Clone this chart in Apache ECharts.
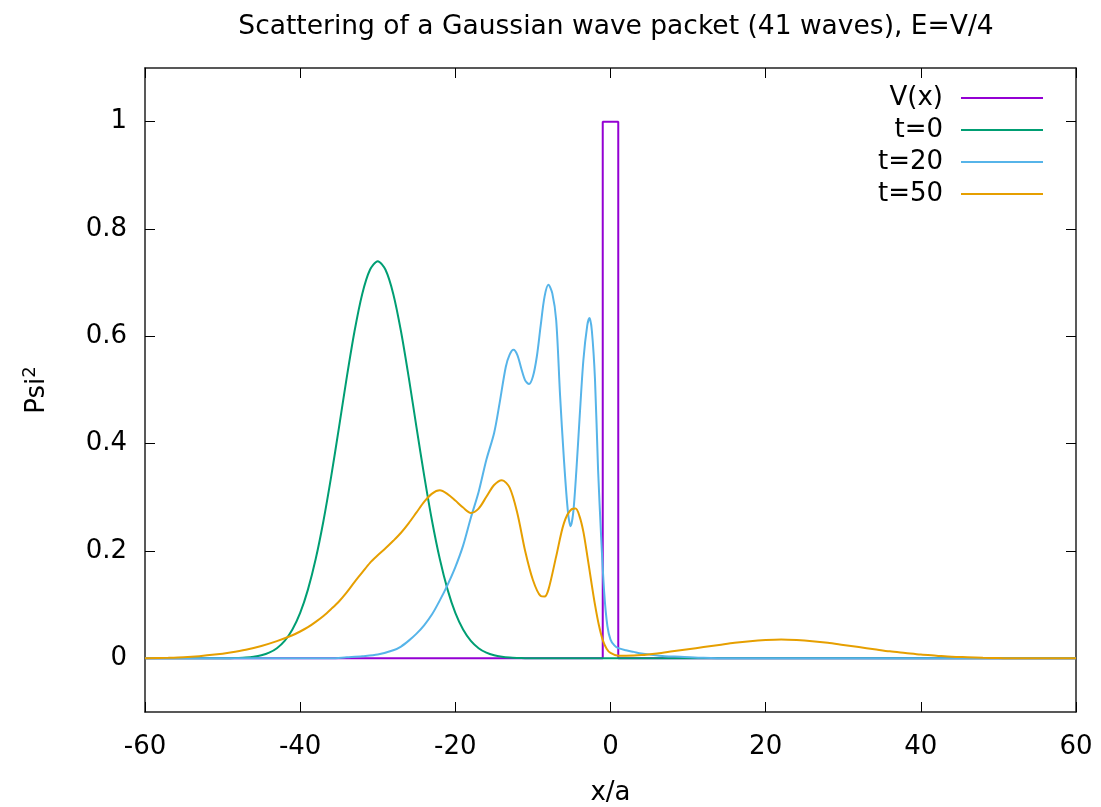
<!DOCTYPE html>
<html>
<head>
<meta charset="utf-8">
<script src="https://cdn.jsdelivr.net/npm/echarts@6/dist/echarts.min.js"></script>
<style>
  html, body { margin: 0; padding: 0; background: #fff; }
  #chart { width: 1101px; height: 807px; }
</style>
</head>
<body>
<div id="chart"></div>
<script>
// tick labels
const xTicks = [-60, -40, -20, 0, 20, 40, 60]
const yTicks = [0, 0.2, 0.4, 0.6, 0.8, 1]

// potential barrier
const potential = [[-60, 0], [-1, 0], [-1, 1], [1, 1], [1, 0], [60, 0]]

// |psi|^2 at t=0
const t0 = [
  [-60, 0], [-52, 0], [-50, 0.0001], [-49, 0.0003], [-48, 0.0007], [-47, 0.0014],
  [-46, 0.0029], [-45, 0.0056], [-44, 0.0105], [-43, 0.0189], [-42, 0.0325],
  [-41, 0.0536], [-40, 0.0845], [-39, 0.128], [-38, 0.185], [-37, 0.256],
  [-36, 0.339], [-35, 0.430], [-34, 0.523], [-33, 0.609], [-32, 0.679],
  [-31, 0.724], [-30, 0.740], [-29, 0.724], [-28, 0.679], [-27, 0.609],
  [-26, 0.523], [-25, 0.430], [-24, 0.339], [-23, 0.256], [-22, 0.185],
  [-21, 0.128], [-20, 0.0845], [-19, 0.0536], [-18, 0.0325], [-17, 0.0189],
  [-16, 0.0105], [-15, 0.0056], [-14, 0.0029], [-13, 0.0014], [-12, 0.0007],
  [-11, 0.0003], [-10, 0.0001], [-8, 0], [60, 0]
]

// |psi|^2 at t=20
const t20 = [
  [-60, 0], [-36, 0], [-34, 0.002], [-32, 0.004], [-30, 0.007], [-28, 0.015],
  [-27, 0.022], [-26, 0.033], [-25, 0.046], [-24, 0.062], [-23, 0.082],
  [-22, 0.108], [-21, 0.137], [-20, 0.170], [-19, 0.210], [-18, 0.262],
  [-17, 0.310], [-16, 0.370], [-15, 0.420], [-14.3, 0.475], [-13.5, 0.543],
  [-13, 0.566], [-12.5, 0.575], [-12, 0.565], [-11.5, 0.540], [-11, 0.518],
  [-10.5, 0.511], [-10, 0.525], [-9.5, 0.562], [-9, 0.620], [-8.5, 0.674],
  [-8, 0.696], [-7.5, 0.680], [-7, 0.630], [-6.5, 0.490], [-6, 0.370],
  [-5.5, 0.275], [-5.15, 0.246], [-4.8, 0.272], [-4.4, 0.350], [-4, 0.444],
  [-3.5, 0.555], [-3, 0.620], [-2.7, 0.634], [-2.4, 0.610], [-2, 0.520],
  [-1.6, 0.351], [-1.2, 0.225], [-0.8, 0.120], [-0.4, 0.060], [0, 0.035],
  [0.5, 0.024], [1, 0.019], [2, 0.015], [3, 0.012], [4, 0.009], [5, 0.007],
  [7, 0.004], [9, 0.003], [12, 0.001], [15, 0], [60, 0]
]

// |psi|^2 at t=50
const t50 = [
  [-60, 0], [-57, 0.001], [-55, 0.002], [-53, 0.004], [-51, 0.007], [-49, 0.011],
  [-47, 0.016], [-45, 0.023], [-43, 0.032], [-41, 0.043], [-40, 0.050],
  [-39, 0.058], [-38, 0.068], [-37, 0.079], [-36, 0.092], [-35, 0.106],
  [-34, 0.123], [-33, 0.142], [-32, 0.160], [-31, 0.178], [-30, 0.192],
  [-29, 0.205], [-28, 0.219], [-27, 0.234], [-26, 0.252], [-25, 0.272],
  [-24, 0.292], [-23, 0.307], [-22, 0.313], [-21, 0.306], [-20, 0.294],
  [-19, 0.281], [-18, 0.271], [-17, 0.279], [-16, 0.301], [-15, 0.323],
  [-14, 0.332], [-13, 0.318], [-12, 0.270], [-11, 0.200], [-10, 0.146],
  [-9, 0.116], [-8.5, 0.115], [-8, 0.128], [-7, 0.190], [-6, 0.252],
  [-5, 0.278], [-4.5, 0.279], [-4, 0.265], [-3.5, 0.236], [-3, 0.192],
  [-2.5, 0.145], [-2, 0.100], [-1.5, 0.062], [-1, 0.034], [-0.5, 0.018],
  [0, 0.010], [1, 0.005], [2, 0.005], [4, 0.006], [6, 0.009], [8, 0.013],
  [10, 0.017], [12, 0.021], [14, 0.025], [16, 0.029], [18, 0.032], [20, 0.034],
  [22, 0.035], [24, 0.034], [26, 0.032], [28, 0.029], [30, 0.025], [32, 0.021],
  [34, 0.017], [36, 0.013], [38, 0.010], [40, 0.007], [42, 0.005], [44, 0.003],
  [46, 0.002], [48, 0.001], [50, 0.0005], [52, 0], [60, 0]
]

const names = ['V(x)', 't=0', 't=20', 't=50']
const colors = ['#9400d3', '#009e73', '#56b4e9', '#e69f00']
const font = 'DejaVu Sans, Liberation Sans, sans-serif'

const chart = echarts.init(document.getElementById('chart'), null, { renderer: 'canvas' })

const fmt = (v) => String(Math.round(v * 10) / 10)

const tickStyle = { show: true, inside: true, length: 10, lineStyle: { color: '#000', width: 1 } }
const axisLine = { show: true, onZero: false, lineStyle: { color: '#222', width: 1.5 } }

const legends = names.map((name, i) => ({
  data: [name],
  right: 53,
  top: 80 + i * 32,
  align: 'right',
  icon: 'rect',
  itemWidth: 82,
  itemHeight: 2,
  textStyle: { fontFamily: font, fontSize: 26, color: '#000', padding: [0, 13, 0, 0] },
  selectedMode: false,
}))

chart.setOption({
  animation: false,
  backgroundColor: '#fff',
  color: colors,
  title: {
    text: 'Scattering of a Gaussian wave packet (41 waves), E=V/4',
    left: 611,
    textAlign: 'center',
    top: 9,
    textStyle: { fontFamily: font, fontSize: 26.5, fontWeight: 'normal', color: '#000' },
  },
  legend: legends,
  grid: { left: 145, right: 25, top: 68, bottom: 95, outerBoundsMode: 'none' },
  xAxis: [
    {
      type: 'value', min: -60, max: 60, interval: 20,
      name: 'x/a', nameLocation: 'middle', nameGap: 68,
      nameTextStyle: { fontFamily: font, fontSize: 26, color: '#000' },
      axisLine, axisTick: tickStyle, splitLine: { show: false },
      axisLabel: { fontFamily: font, fontSize: 26, color: '#000', margin: 22, customValues: xTicks },
    },
    {
      type: 'value', min: -60, max: 60, interval: 20, position: 'top',
      axisLine, axisTick: tickStyle, splitLine: { show: false },
      axisLabel: { show: false },
    },
  ],
  yAxis: [
    {
      type: 'value', min: -0.1, max: 1.1,
      name: 'Psi{sup|2}', nameLocation: 'middle', nameGap: 92, nameRotate: 90,
      nameTextStyle: {
        fontFamily: font, fontSize: 26, color: '#000',
        rich: { sup: { fontFamily: font, fontSize: 18, color: '#000', verticalAlign: 'top', padding: [0, 0, 14, 0] } },
      },
      axisLine,
      axisTick: Object.assign({ customValues: yTicks }, tickStyle),
      splitLine: { show: false },
      axisLabel: { fontFamily: font, fontSize: 26, color: '#000', margin: 18, customValues: yTicks, formatter: fmt },
    },
    {
      type: 'value', min: -0.1, max: 1.1, position: 'right',
      axisLine,
      axisTick: Object.assign({ customValues: yTicks }, tickStyle),
      splitLine: { show: false },
      axisLabel: { show: false },
    },
  ],
  series: [
    { name: names[0], type: 'line', data: potential, showSymbol: false, lineStyle: { width: 2 } },
    { name: names[1], type: 'line', data: t0, showSymbol: false, smooth: 0.3, lineStyle: { width: 2 } },
    { name: names[2], type: 'line', data: t20, showSymbol: false, smooth: 0.3, lineStyle: { width: 2 } },
    { name: names[3], type: 'line', data: t50, showSymbol: false, smooth: 0.3, lineStyle: { width: 2 } },
  ],
})
</script>
</body>
</html>
